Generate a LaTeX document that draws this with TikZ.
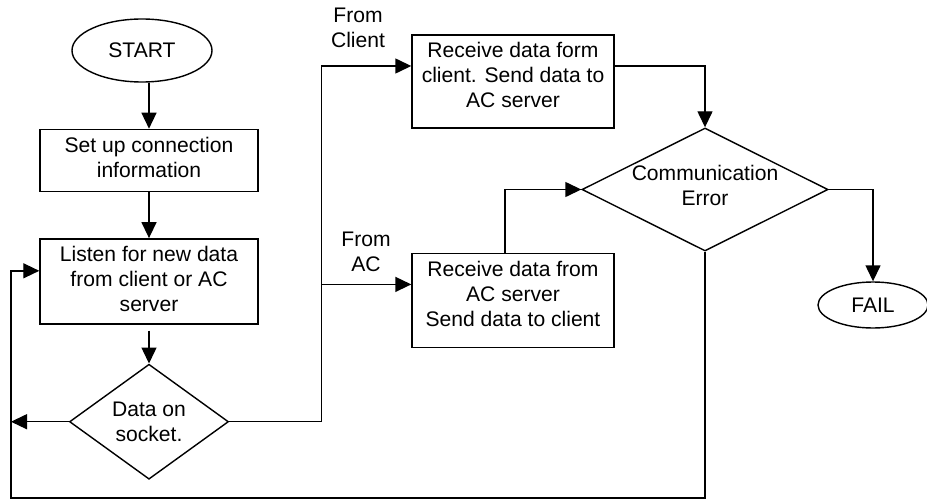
\documentclass[tikz,border=0pt]{standalone}
\usepackage{fontspec}
\setmainfont{Liberation Sans}
\usepackage{tikz}
\usetikzlibrary{positioning, arrows.meta, calc, shapes.geometric}

\begin{document}
\begin{tikzpicture}[
        every node/.style={font=\fontsize{12}{14.3}\selectfont},
        terminal/.style={ellipse, draw, line width=0.8pt, inner sep=0pt},
        process/.style={rectangle, draw, line width=0.8pt, align=center, inner sep=0pt},
        decision/.style={diamond, draw, line width=0.8pt, align=center, inner sep=0pt},
        arrow/.style={-{Triangle[length=0.32cm, width=0.3cm]}, line width=0.8pt}
    ]
        \useasboundingbox (0,0) rectangle (18.54,-10.02);

        % Left column
        \node[terminal, minimum width=2.8cm, minimum height=1.26cm] (start) at (2.84,-1.01) {START};
        \node[process, below=0.92cm of start, xshift=0.14cm, minimum width=4.36cm, text height=0.955cm, text depth=0.285cm] (setup) {Set up connection\\ information};
        \node[process, below=0.92cm of setup, minimum width=4.36cm, text height=1.459cm, text depth=0.241cm] (listen) {Listen for new data\\ from client or AC\\ server};
        \node[decision, below=0.78cm of listen, aspect=1.38, minimum width=3.18cm, minimum height=2.3cm] (socket) {Data on\\ socket.};

        % Middle column
        \node[process, minimum width=4.04cm, text height=1.459cm, text depth=0.401cm] (fromclient) at (10.26,-1.63) {Receive data form\\ client. Send data to\\ AC server};
        \node[process, below=2.48cm of fromclient, minimum width=4.04cm, text height=1.459cm, text depth=0.421cm] (fromac) {Receive data from\\ AC server\\ Send data to client};

        % Branch labels
        \node[align=center] (clientlbl) at (7.16,-0.55) {From\\ Client};
        \node[align=center] (aclbl) at (7.32,-5.04) {From\\ AC};

        % Right column
        \node[decision, aspect=2, minimum width=4.88cm, minimum height=2.46cm, text height=0.815cm, text depth=0.18cm] (commerr) at (14.1,-3.79) {Communication\\ Error};
        \node[terminal, minimum width=2.2cm, minimum height=0.92cm] (fail) at (17.46,-6.1) {FAIL};

        % Helper points
        \coordinate (split) at ($(socket.east)+(1.84,0)$);
        \coordinate (loop) at (0.22,-9.96);

        % Arrows
        \draw[arrow] (start.south -| setup.north) -- (setup.north);
        \draw[arrow] (setup) -- (listen);
        \draw[arrow, shorten <=0.12cm] (listen.south) -- (socket.north);
        \draw[arrow] (socket.west) -- (loop |- socket.west);
        \draw[arrow] (socket.east) -- (split) |- ([yshift=0.31cm]fromclient.west);
        \draw[arrow] (split) |- ([yshift=0.32cm]fromac.west);
        \draw[arrow] ([yshift=0.31cm]fromclient.east) -| (commerr.north);
        \draw[arrow] ([xshift=-0.16cm]fromac.north) |- (commerr.west);
        \draw[arrow] (commerr.east) -| (fail.north);

        % Loop back
        \draw[arrow] (commerr.south) |- (loop) |- ([yshift=0.21cm]listen.west);
    \end{tikzpicture}
\end{document}
